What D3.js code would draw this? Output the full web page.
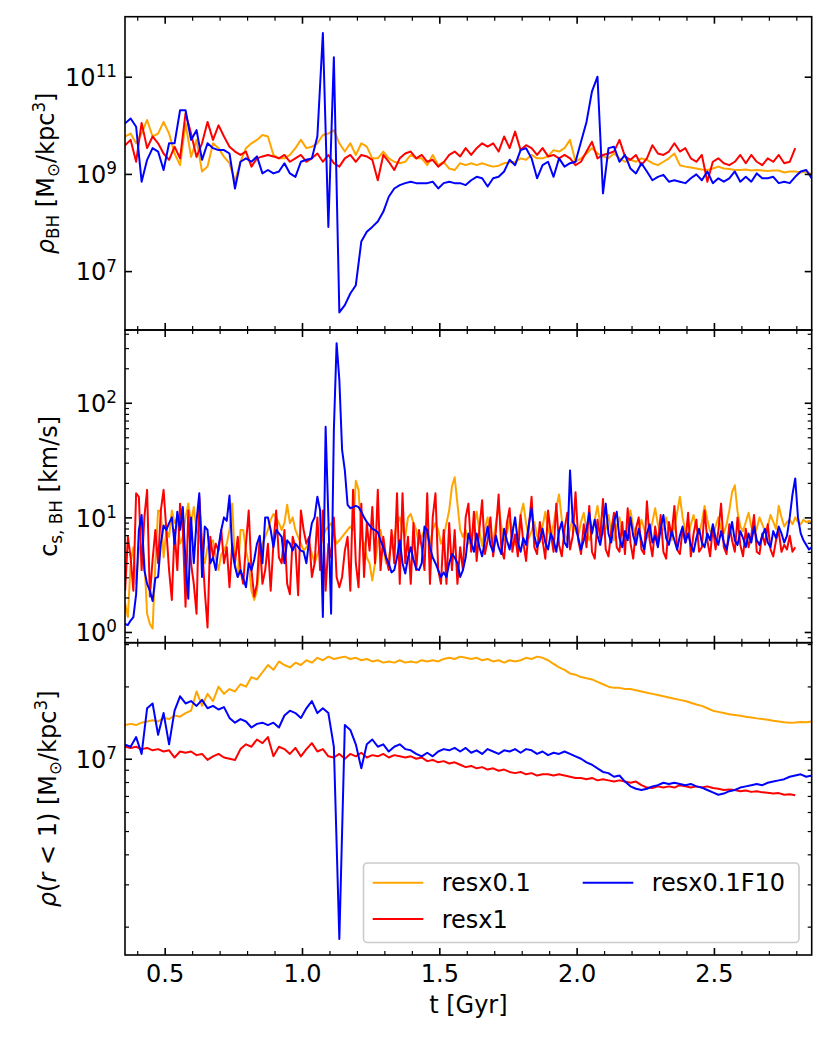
<!DOCTYPE html>
<html>
<head>
<meta charset="utf-8">
<script src="https://cdn.jsdelivr.net/npm/d3@7"></script>
<style>
  body { margin: 0; background: #fff; }
  text { font-family: "DejaVu Sans"; }
</style>
</head>
<body>
<script>
// sample times [Gyr]: panels 1 and 3 every 0.02, panel 2 every 0.01
var tCoarse = d3.range(0.356, 2.857, 0.02);
var tFine = d3.range(0.356, 2.857, 0.01);

var names = ["resx0.1", "resx1", "resx0.1F10"];
var colors = ["orange", "red", "blue"];

// panel 1: log10 rho_BH [Msun/kpc^3]
var lgRhoBH_resx01 = [
  9.77, 9.83, 9.63, 9.83, 10.11, 9.77, 9.83, 10.07, 9.83, 9.42,
  9.18, 10.04, 9.35, 9.70, 9.05, 9.15, 9.63, 9.53, 9.35, 9.22,
  8.85, 9.25, 9.53, 9.63, 9.70, 9.80, 9.77, 9.39, 9.32, 9.32,
  9.39, 9.53, 9.70, 9.53, 9.56, 9.63, 9.80, 9.83, 9.90, 9.63,
  9.46, 9.63, 9.39, 9.63, 9.56, 9.32, 9.32, 9.46, 9.32, 9.25,
  9.22, 9.25, 9.39, 9.32, 9.32, 9.18, 9.39, 9.18, 9.25, 9.11,
  9.08, 9.22, 9.18, 9.22, 9.18, 9.22, 9.18, 9.15, 9.17, 9.22,
  9.24, 9.25, 9.32, 9.29, 9.39, 9.32, 9.32, 9.36, 9.49, 9.46,
  9.53, 9.70, 9.25, 9.32, 9.42, 9.53, 9.42, 9.36, 9.32, 9.42,
  9.32, 9.25, 9.29, 9.25, 9.32, 9.29, 9.22, 9.18, 9.25, 9.32,
  9.42, 9.18, 9.15, 9.13, 9.11, 9.09, 9.08, 9.11, 9.15, 9.11,
  9.10, 9.08, 9.08, 9.09, 9.07, 9.08, 9.07, 9.06, 9.07, 9.07,
  9.03, 9.05, 9.05, 9.03, 9.05, 8.99
];
var lgRhoBH_resx1 = [
  9.59, 9.70, 9.25, 10.05, 9.53, 9.77, 9.63, 9.42, 9.29, 9.56,
  9.32, 10.25, 9.83, 9.35, 9.63, 10.07, 9.70, 10.0, 9.77, 9.56,
  9.46, 9.39, 9.46, 9.15, 9.32, 9.36, 9.39, 9.36, 9.32, 9.39,
  9.25, 9.32, 9.39, 9.25, 9.32, 9.42, 9.25, 9.39, 9.22, 9.15,
  9.32, 9.39, 9.25, 9.39, 9.36, 9.29, 8.87, 9.39, 9.25, 9.08,
  9.32, 9.42, 9.46, 9.32, 9.39, 9.25, 9.29, 9.15, 9.24, 9.39,
  9.46, 9.36, 9.53, 9.39, 9.53, 9.63, 9.56, 9.63, 9.46, 9.77,
  9.53, 9.87, 9.49, 9.59, 9.53, 9.39, 9.53, 9.36, 9.39, 9.32,
  9.39, 9.32, 9.18, 9.25, 9.46, 9.66, 9.32, 9.39, 9.42, 9.46,
  9.70, 9.36, 9.29, 9.39, 9.18, 9.32, 9.59, 9.42, 9.39, 9.46,
  9.63, 9.46, 9.53, 9.32, 9.25, 9.39, 8.84, 9.25, 9.32, 9.22,
  9.18, 9.25, 9.39, 9.22, 9.39, 9.25, 9.18, 9.32, 9.25, 9.39,
  9.22, 9.25, 9.53
];
var lgRhoBH_resx01F10 = [
  10.04, 10.14, 9.97, 8.84, 9.29, 9.53, 9.46, 9.08, 9.63, 9.63,
  10.31, 10.31, 9.70, 9.90, 9.29, 9.63, 9.53, 9.49, 9.49, 9.42,
  8.70, 9.25, 9.32, 9.25, 9.36, 9.01, 9.08, 9.01, 9.05, 9.22,
  9.01, 8.94, 9.25, 9.29, 9.32, 9.77, 11.9, 7.91, 11.4, 6.15,
  6.30, 6.54, 6.71, 7.61, 7.81, 7.91, 8.02, 8.22, 8.53, 8.70,
  8.77, 8.81, 8.84, 8.81, 8.81, 8.81, 8.84, 8.70, 8.81, 8.84,
  8.81, 8.81, 8.77, 8.87, 8.94, 8.91, 8.74, 8.91, 8.94, 9.05,
  9.29, 9.18, 9.49, 9.53, 9.32, 8.91, 9.18, 9.25, 8.94, 9.32,
  9.15, 9.22, 9.25, 9.66, 10.07, 10.7, 11.0, 8.6, 9.53, 9.56,
  9.25, 9.39, 9.11, 9.01, 9.22, 9.05, 8.87, 8.94, 8.98, 8.84,
  8.87, 8.84, 8.81, 8.91, 8.99, 8.87, 9.05, 8.81, 8.91, 8.84,
  8.91, 9.05, 8.84, 8.94, 8.84, 9.01, 8.91, 8.91, 8.94, 8.81,
  8.84, 8.81, 8.94, 9.05, 9.08, 8.91
];

// panel 2: log10 c_s,BH [km/s]
var lgCsBH_resx01 = [
  0.25, 0.13, 0.60, 0.74, 0.42, 0.71, 0.77, 0.63, 0.16, 0.07,
  0.03, 0.60, 1.06, 1.05, 0.65, 0.89, 0.83, 1.06, 0.95, 1.00,
  0.77, 0.83, 1.00, 1.12, 0.95, 1.09, 0.89, 0.83, 0.71, 0.60,
  0.74, 0.77, 0.80, 0.65, 0.54, 0.68, 0.71, 0.77, 0.89, 1.12,
  0.60, 0.48, 0.89, 0.89, 0.71, 0.60, 0.36, 0.28, 0.36, 0.60,
  0.77, 0.83, 0.89, 0.98, 1.03, 1.00, 0.95, 0.89, 0.95, 1.11,
  0.95, 1.00, 0.89, 0.83, 0.77, 0.71, 0.74, 0.77, 0.68, 0.60,
  0.68, 0.74, 0.83, 0.89, 0.92, 0.95, 0.86, 0.77, 0.80, 0.83,
  0.86, 0.89, 0.92, 0.89, 1.32, 1.24, 0.83, 0.77, 0.65, 0.60,
  0.45, 0.60, 0.77, 0.89, 0.74, 0.60, 0.65, 0.77, 0.83, 0.95,
  1.00, 0.89, 0.83, 1.00, 1.03, 0.95, 0.89, 0.77, 0.83, 0.89,
  0.83, 0.77, 0.89, 0.95, 0.89, 0.77, 0.83, 0.95, 1.06, 1.27,
  1.35, 1.12, 0.89, 0.83, 0.89, 0.77,
  0.80, 0.92, 1.05, 0.88, 0.75, 0.90, 1.00, 0.85, 0.78, 0.95,
  1.10, 0.92, 0.80, 0.86, 0.98, 0.90, 0.76, 0.84, 1.02, 1.12,
  0.95, 0.82, 0.88, 0.96, 0.84, 0.78, 0.92, 1.05, 0.90, 0.82,
  0.94, 1.08, 1.20, 0.98, 0.86, 0.80, 0.90, 1.00, 0.88, 0.84,
  0.96, 1.04, 0.90, 0.80, 0.86, 0.98, 1.10, 0.94, 0.85, 0.90,
  1.02, 0.88, 0.80, 0.92, 1.00, 0.86, 0.82, 0.94, 1.06, 0.92,
  0.84, 0.88, 0.98, 0.90, 0.82, 0.86, 0.96, 1.08, 0.94, 0.86,
  0.90, 1.00, 0.88, 0.80, 0.92, 1.04, 1.18, 1.00, 0.88, 0.84,
  0.94, 1.02, 0.90, 0.86, 0.96, 1.10, 0.98, 0.88, 0.84, 0.92,
  1.00, 0.90, 0.86, 0.94, 1.06, 1.22, 1.28, 1.05, 0.92, 0.88,
  0.96, 1.04, 0.92, 0.86, 0.90, 1.00, 0.94, 0.88, 0.92, 1.02,
  0.96, 0.90, 1.10, 1.00, 0.92, 0.96, 0.98, 0.94, 1.00, 0.96,
  0.94, 0.98, 0.96, 0.97, 0.96
];
var lgCsBH_resx1 = [
  0.36, 0.83, 0.65, 0.36, 1.21, 1.18, 0.54, 1.00, 1.24, 0.31,
  0.63, 0.89, 0.60, 1.06, 1.24, 0.89, 0.54, 0.28, 0.89, 0.54,
  1.12, 0.89, 0.22, 1.06, 0.60, 0.42, 0.16, 1.18, 0.77, 0.36,
  0.04, 0.83, 0.65, 0.77, 0.71, 0.89, 0.60, 0.74, 0.39, 0.77,
  0.60, 0.83, 0.54, 0.42, 0.77, 1.06, 0.54, 0.31, 0.42, 0.83,
  0.42, 0.54, 0.77, 0.36, 0.77, 1.06, 0.65, 0.60, 0.89, 0.42,
  0.33, 0.83, 0.74, 0.32, 1.06, 0.89, 0.77, 0.83, 0.48, 0.60,
  1.00, 0.54, 1.06, 0.36, 0.77, 0.65, 1.00, 0.48, 0.39, 0.48,
  0.71, 0.83, 0.36, 1.24, 0.60, 0.39, 1.12, 0.48, 0.95, 0.71,
  1.09, 0.60, 1.24, 0.54, 0.83, 0.65, 0.54, 0.89, 0.60, 1.21,
  0.42, 1.21, 0.60, 0.83, 0.42, 0.95, 0.54, 0.89, 0.74, 0.54,
  1.21, 0.42, 1.00, 1.21, 0.54, 0.42, 0.89, 0.42, 0.95, 0.54,
  0.89, 0.42, 0.74, 0.54, 1.00, 1.12,
  0.70, 1.05, 0.62, 0.90, 1.15, 0.68, 0.80, 1.00, 0.66, 0.88,
  1.20, 0.72, 0.64, 0.95, 1.08, 0.70, 0.85, 0.66, 1.02, 0.78,
  0.62, 0.92, 1.18, 0.74, 0.68, 0.96, 0.80, 0.64, 1.06, 0.86,
  0.70, 1.12, 0.76, 0.66, 0.90, 1.04, 0.72, 0.84, 1.22, 0.80,
  0.68, 0.94, 0.74, 1.10, 0.70, 0.64, 0.98, 0.82, 1.16, 0.72,
  0.66, 0.88, 1.04, 0.74, 0.70, 0.96, 0.68, 1.08, 0.78, 0.64,
  0.90, 1.00, 0.72, 0.68, 1.14, 0.80, 0.66, 0.92, 0.76, 1.02,
  0.70, 0.64, 0.96, 0.84, 1.10, 0.72, 0.68, 0.90, 0.78, 1.04,
  0.66, 0.86, 0.98, 0.70, 0.74, 1.06, 0.80, 0.66, 0.92, 0.72,
  0.88, 1.12, 0.74, 0.68, 0.94, 0.80, 0.70, 1.00, 0.76, 0.66,
  0.90, 0.74, 0.84, 1.02, 0.70, 0.68, 0.86, 0.76, 0.94, 0.72,
  0.66, 0.80, 0.88, 0.70, 0.76, 0.72, 0.84, 0.70, 0.74
];
var lgCsBH_resx01F10 = [
  0.07, 0.06, 0.10, 0.13, 0.33, 0.89, 1.02, 0.54, 0.42, 0.36,
  0.27, 0.47, 0.48, 0.77, 0.93, 0.89, 0.95, 1.00, 0.77, 1.05,
  0.89, 1.09, 0.60, 0.29, 1.00, 0.60, 0.97, 1.21, 0.48, 0.92,
  0.89, 0.60, 0.65, 0.54, 0.74, 0.89, 1.00, 0.97, 1.19, 0.71,
  0.57, 0.48, 0.54, 0.47, 0.39, 0.60, 0.54, 0.63, 0.77, 0.84,
  0.60, 1.00, 1.00, 0.89, 0.74, 0.89, 0.86, 0.83, 0.60, 0.80,
  0.77, 0.71, 0.77, 0.74, 0.71, 0.70, 0.60, 0.80, 0.95, 1.00,
  1.18, 1.06, 0.13, 1.79, 1.00, 0.16, 1.76, 2.52, 2.20, 1.59,
  1.41, 1.11, 1.08, 1.09, 1.10, 1.09, 1.05, 1.00, 0.96, 0.93,
  0.90, 0.89, 0.87, 0.80, 0.74, 0.65, 0.60, 0.52, 0.54, 0.65,
  0.80, 0.60, 0.51, 0.65, 0.74, 0.63, 0.55, 0.54, 0.60, 0.92,
  0.89, 0.74, 0.65, 0.60, 0.54, 0.48, 0.52, 0.48, 0.60, 0.68,
  0.65, 0.60, 0.48, 0.54, 0.65, 0.86,
  0.78, 0.70, 0.86, 0.74, 0.66, 0.80, 0.92, 0.76, 0.70, 0.84,
  0.74, 0.68, 0.90, 0.80, 0.72, 0.86, 1.00, 0.78, 0.70, 0.82,
  0.76, 0.94, 1.08, 0.84, 0.74, 0.80, 0.90, 0.78, 0.72, 0.86,
  0.80, 0.70, 0.88, 0.96, 0.78, 0.74, 1.41, 0.96, 0.92, 0.82,
  0.72, 0.80, 0.90, 1.04, 0.86, 0.98, 0.84, 0.76, 0.90, 1.12,
  0.86, 0.78, 0.96, 1.05, 0.82, 0.74, 0.88, 0.80, 1.00, 0.84,
  0.76, 0.90, 0.80, 0.72, 0.86, 0.94, 0.78, 0.84, 0.74, 0.90,
  1.02, 0.82, 0.76, 0.88, 0.80, 0.72, 0.84, 0.92, 0.78, 0.86,
  0.76, 0.70, 0.82, 0.90, 0.78, 0.74, 0.86, 0.80, 0.94, 0.82,
  0.76, 0.88, 0.78, 0.72, 0.84, 0.96, 0.80, 0.76, 0.88, 0.82,
  0.74, 0.86, 0.78, 0.92, 0.80, 0.76, 0.84, 0.90, 0.78, 0.74,
  0.88, 0.82, 0.92, 0.86, 0.78, 0.84, 1.00, 1.20, 1.34, 1.00,
  0.86, 0.80, 0.76, 0.72, 0.74
];

// panel 3: log10 rho(r<1) [Msun/kpc^3]
var lgRhoIn_resx01 = [
  7.14, 7.145, 7.14, 7.15, 7.155, 7.16, 7.155, 7.17, 7.165, 7.18,
  7.175, 7.19, 7.20, 7.28, 7.22, 7.27, 7.24, 7.30, 7.27, 7.29,
  7.28, 7.31, 7.30, 7.34, 7.33, 7.36, 7.39, 7.37, 7.405, 7.39,
  7.38, 7.40, 7.39, 7.41, 7.40, 7.42, 7.41, 7.425, 7.415, 7.42,
  7.425, 7.415, 7.42, 7.41, 7.415, 7.405, 7.41, 7.40, 7.405, 7.40,
  7.41, 7.40, 7.405, 7.40, 7.41, 7.405, 7.41, 7.405, 7.415, 7.42,
  7.415, 7.425, 7.42, 7.415, 7.42, 7.41, 7.415, 7.405, 7.41, 7.40,
  7.41, 7.405, 7.41, 7.42, 7.415, 7.425, 7.42, 7.41, 7.395, 7.38,
  7.37, 7.355, 7.35, 7.34, 7.335, 7.33, 7.32, 7.31, 7.30, 7.295,
  7.295, 7.29, 7.29, 7.285, 7.28, 7.275, 7.27, 7.265, 7.26, 7.255,
  7.25, 7.245, 7.24, 7.233, 7.226, 7.22, 7.21, 7.20, 7.195, 7.19,
  7.185, 7.182, 7.179, 7.175, 7.172, 7.168, 7.165, 7.162, 7.158, 7.155,
  7.152, 7.15, 7.151, 7.153, 7.152, 7.155
];
var lgRhoIn_resx1 = [
  7.05, 7.045, 7.05, 7.04, 7.045, 7.035, 7.04, 7.03, 7.035, 7.005,
  7.03, 7.025, 7.03, 7.015, 7.02, 6.995, 7.01, 7.02, 7.005, 7.0,
  6.995, 7.04, 7.06, 7.05, 7.08, 7.065, 7.09, 7.01, 7.05, 7.04,
  7.02, 7.045, 7.01, 7.04, 7.065, 7.03, 7.04, 7.01, 7.005, 7.02,
  7.0, 7.02, 7.01, 7.025, 7.005, 7.015, 7.01, 7.02, 7.005, 7.015,
  7.01, 7.005, 7.01, 7.0, 7.005, 6.99, 6.995, 6.985, 6.99, 6.98,
  6.985, 6.975, 6.965, 6.97, 6.96, 6.965, 6.955, 6.96, 6.95, 6.955,
  6.945, 6.94, 6.945, 6.935, 6.94, 6.93, 6.935, 6.935, 6.93, 6.935,
  6.93, 6.925, 6.92, 6.92, 6.915, 6.92, 6.91, 6.915, 6.91, 6.905,
  6.91, 6.905, 6.9, 6.905, 6.89, 6.88, 6.878, 6.885, 6.88, 6.885,
  6.88, 6.89, 6.885, 6.88, 6.885, 6.88, 6.885, 6.878, 6.875, 6.87,
  6.872, 6.87, 6.865, 6.868, 6.862, 6.865, 6.86, 6.858, 6.855, 6.857,
  6.85, 6.852, 6.848
];
var lgRhoIn_resx01F10 = [
  7.058, 7.05, 7.09, 7.02, 7.21, 7.23, 7.10, 7.19, 7.06, 7.20,
  7.26, 7.23, 7.24, 7.22, 7.245, 7.21, 7.22, 7.205, 7.215, 7.17,
  7.15, 7.165, 7.155, 7.13, 7.145, 7.15, 7.14, 7.15, 7.13, 7.18,
  7.20, 7.19, 7.17, 7.21, 7.24, 7.19, 7.21, 7.19, 7.05, 6.25,
  7.14, 7.12, 7.06, 6.96, 7.06, 7.08, 7.05, 7.06, 7.03, 7.05,
  7.06, 7.04, 7.035, 7.02, 7.01, 7.025, 7.01, 7.03, 7.04, 7.035,
  7.045, 7.03, 7.045, 7.025, 7.035, 7.02, 7.04, 7.03, 7.02, 7.035,
  7.03, 7.04, 7.025, 7.04, 7.035, 7.02, 7.03, 7.015, 7.025, 7.02,
  7.03, 7.02, 7.01, 7.00, 6.985, 6.975, 6.96, 6.945, 6.94, 6.925,
  6.93, 6.905, 6.885, 6.875, 6.87, 6.875, 6.885, 6.89, 6.90, 6.895,
  6.90, 6.895, 6.89, 6.895, 6.885, 6.88, 6.87, 6.86, 6.85, 6.855,
  6.865, 6.87, 6.88, 6.885, 6.89, 6.895, 6.89, 6.90, 6.905, 6.91,
  6.915, 6.925, 6.93, 6.935, 6.925, 6.93
];

// ticks
var xMajor = [0.5, 1.0, 1.5, 2.0, 2.5];
var xMinor = [0.4, 0.6, 0.7, 0.8, 0.9, 1.1, 1.2, 1.3, 1.4, 1.6, 1.7, 1.8, 1.9,
              2.1, 2.2, 2.3, 2.4, 2.6, 2.7, 2.8];
var y1Major = [1e7, 1e9, 1e11];
var y2Major = [1, 10, 100];
var y2Minor = [0.9, 2, 3, 4, 5, 6, 7, 8, 9, 20, 30, 40, 50, 60, 70, 80, 90, 200, 300, 400];
var y3Major = [1e7];
var y3Minor = [2e6, 3e6, 4e6, 5e6, 6e6, 7e6, 8e6, 9e6, 2e7, 3e7];

var W = 830, H = 1039;
var left = 125, right = 811.7;
var FS = 24;

var svg = d3.select("body").append("svg")
    .attr("width", W)
    .attr("height", H);

var x = d3.scaleLinear().domain([0.3555, 2.856]).range([left, right]);

// text with italic / sub / superscript pieces
function richText(sel, parts, size) {
    var shift = 0;
    parts.forEach(function(p) {
        var s = p.sub ? 0.2 : (p.sup ? -0.36 : 0);
        var ts = sel.append("tspan").text(p.t);
        if (p.sub || p.sup) ts.attr("font-size", size * 0.7);
        if (s !== shift) ts.attr("dy", (s - shift) * size);
        if (p.it) ts.attr("font-style", "italic");
        shift = s;
    });
}

function drawPanel(k, top, bottom, lgDomain, times, series, yMajor, yMinor, label, labelX) {
    var y = d3.scaleLog()
        .domain([Math.pow(10, lgDomain[0]), Math.pow(10, lgDomain[1])])
        .range([bottom, top]);

    svg.append("clipPath").attr("id", "clip" + k)
        .append("rect")
        .attr("x", left).attr("y", top)
        .attr("width", right - left).attr("height", bottom - top);

    var line = d3.line()
        .x(function(d, i) { return x(times[i]); })
        .y(function(d) { return y(Math.pow(10, d)); });

    var g = svg.append("g").attr("clip-path", "url(#clip" + k + ")");
    series.forEach(function(s, i) {
        g.append("path")
            .datum(s)
            .attr("fill", "none")
            .attr("stroke", colors[i])
            .attr("stroke-width", 2)
            .attr("stroke-linejoin", "round")
            .attr("d", line);
    });

    function styleAxis(a, w) {
        a.select(".domain").remove();
        a.selectAll(".tick line").attr("stroke-width", w);
        a.attr("font-size", FS).attr("font-family", "DejaVu Sans");
    }

    // x ticks on bottom and top, pointing in
    var isLast = (k === 3);
    svg.append("g").attr("transform", "translate(0," + bottom + ")")
        .call(d3.axisBottom(x).tickValues(xMajor).tickSizeInner(-7).tickSizeOuter(0)
            .tickPadding(10).tickFormat(isLast ? d3.format(".1f") : ""))
        .call(styleAxis, 1.6);
    svg.append("g").attr("transform", "translate(0," + bottom + ")")
        .call(d3.axisBottom(x).tickValues(xMinor).tickSizeInner(-4).tickSizeOuter(0).tickFormat(""))
        .call(styleAxis, 1.2);
    svg.append("g").attr("transform", "translate(0," + top + ")")
        .call(d3.axisTop(x).tickValues(xMajor).tickSizeInner(-7).tickSizeOuter(0).tickFormat(""))
        .call(styleAxis, 1.6);
    svg.append("g").attr("transform", "translate(0," + top + ")")
        .call(d3.axisTop(x).tickValues(xMinor).tickSizeInner(-4).tickSizeOuter(0).tickFormat(""))
        .call(styleAxis, 1.2);

    // y ticks, left with labels, right without
    var yl = svg.append("g").attr("transform", "translate(" + left + ",0)")
        .call(d3.axisLeft(y).tickValues(yMajor).tickSizeInner(-7).tickSizeOuter(0).tickPadding(8))
        .call(styleAxis, 1.6);
    yl.selectAll(".tick text").text(null).attr("dy", "0.36em")
        .each(function(d) {
            var e = Math.round(Math.log10(d));
            richText(d3.select(this), [{t: "10"}, {t: String(e), sup: true}], FS);
        });
    svg.append("g").attr("transform", "translate(" + right + ",0)")
        .call(d3.axisRight(y).tickValues(yMajor).tickSizeInner(-7).tickSizeOuter(0).tickFormat(""))
        .call(styleAxis, 1.6);
    if (yMinor.length) {
        svg.append("g").attr("transform", "translate(" + left + ",0)")
            .call(d3.axisLeft(y).tickValues(yMinor).tickSizeInner(-4).tickSizeOuter(0).tickFormat(""))
            .call(styleAxis, 1.2);
        svg.append("g").attr("transform", "translate(" + right + ",0)")
            .call(d3.axisRight(y).tickValues(yMinor).tickSizeInner(-4).tickSizeOuter(0).tickFormat(""))
            .call(styleAxis, 1.2);
    }

    svg.append("rect")
        .attr("x", left).attr("y", top)
        .attr("width", right - left).attr("height", bottom - top)
        .attr("fill", "none")
        .attr("stroke", "black")
        .attr("stroke-width", 1.6);

    var lab = svg.append("text")
        .attr("transform", "translate(" + labelX + "," + ((top + bottom) / 2) + ") rotate(-90)")
        .attr("text-anchor", "middle")
        .attr("font-size", FS);
    richText(lab, label, FS);
}

drawPanel(1, 16.7, 330, [5.788, 12.235], tCoarse,
    [lgRhoBH_resx01, lgRhoBH_resx1, lgRhoBH_resx01F10], y1Major, [],
    [{t: "ρ", it: true}, {t: "BH", sub: true}, {t: " [M"}, {t: "⊙", sub: true},
     {t: "/kpc"}, {t: "3", sup: true}, {t: "]"}], 54);

drawPanel(2, 330, 642.7, [-0.0935, 2.635], tFine,
    [lgCsBH_resx01, lgCsBH_resx1, lgCsBH_resx01F10], y2Major, y2Minor,
    [{t: "c"}, {t: "s, BH", sub: true}, {t: " [km/s]"}], 57);

drawPanel(3, 642.7, 955, [6.183, 7.483], tCoarse,
    [lgRhoIn_resx01, lgRhoIn_resx1, lgRhoIn_resx01F10], y3Major, y3Minor,
    [{t: "ρ", it: true}, {t: "("}, {t: "r", it: true}, {t: " < 1) [M"}, {t: "⊙", sub: true},
     {t: "/kpc"}, {t: "3", sup: true}, {t: "]"}], 56);

// x label
svg.append("text")
    .attr("x", (left + right) / 2)
    .attr("y", 1013)
    .attr("text-anchor", "middle")
    .attr("font-size", FS)
    .text("t [Gyr]");

// legend
var lg = svg.append("g");
lg.append("rect")
    .attr("x", 363.5).attr("y", 863)
    .attr("width", 435.5).attr("height", 79.5)
    .attr("rx", 4)
    .attr("fill", "white").attr("fill-opacity", 0.8)
    .attr("stroke", "#cccccc").attr("stroke-width", 1.6);
var legendPos = [[372.7, 882.7], [372.7, 919], [582.7, 882.7]];
names.forEach(function(n, i) {
    var p = legendPos[i];
    lg.append("line")
        .attr("x1", p[0]).attr("x2", p[0] + 50.6)
        .attr("y1", p[1]).attr("y2", p[1])
        .attr("stroke", colors[i]).attr("stroke-width", 2);
    lg.append("text")
        .attr("x", p[0] + 69).attr("y", p[1])
        .attr("dy", "0.36em")
        .attr("font-size", FS)
        .text(n);
});
</script>
</body>
</html>
